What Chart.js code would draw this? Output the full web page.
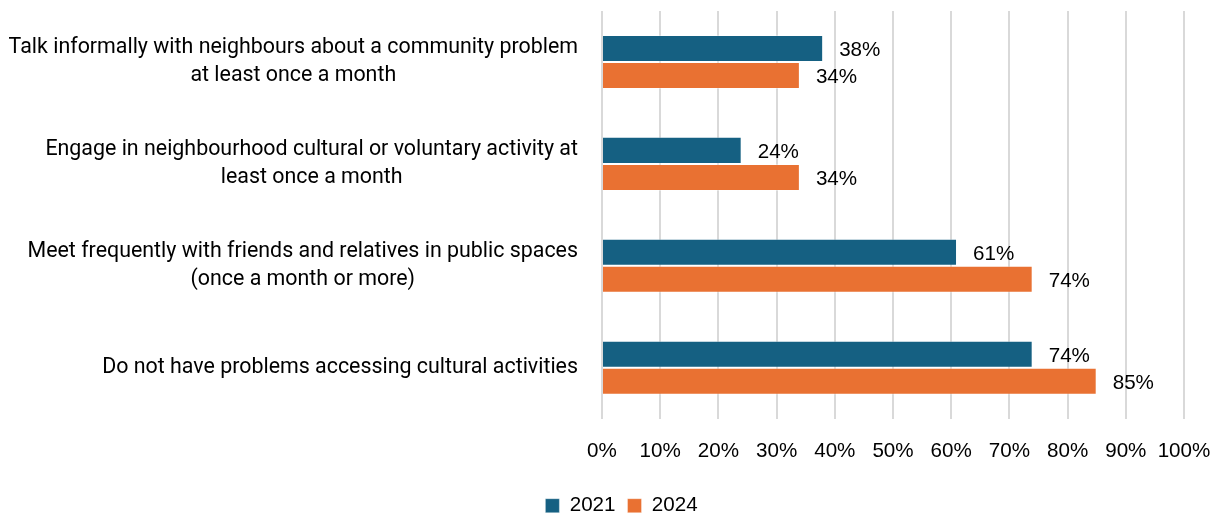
<!DOCTYPE html>
<html>
<head>
<meta charset="utf-8">
<script src="https://cdn.jsdelivr.net/npm/chart.js@4.4.1/dist/chart.umd.min.js"></script>
<style>
  html, body { margin: 0; padding: 0; background: #fff; }
  #wrap { width: 1215px; height: 513px; }
</style>
</head>
<body>
<div id="wrap"><canvas id="chart" width="1215" height="513"></canvas></div>
<script>
// survey items, each one is an array of text lines
var categories = [
  ['Talk informally with neighbours about a community problem', 'at least once a month'],
  ['Engage in neighbourhood cultural or voluntary activity at', 'least once a month'],
  ['Meet frequently with friends and relatives in public spaces', '(once a month or more)'],
  ['Do not have problems accessing cultural activities']
];
var seriesNames = ['2021', '2024'];
var values2021 = [38, 24, 61, 74];
var values2024 = [34, 34, 74, 85];
var tickLabels = ['0%', '10%', '20%', '30%', '40%', '50%', '60%', '70%', '80%', '90%', '100%'];

var colors = ['#156082', '#E97132'];
var numFont = '20.6px "Liberation Sans", Arial, sans-serif';
var catFont = '21.4px "Roboto", sans-serif';

// category labels: every block is centred on its own longest line,
// and all blocks are right aligned against the plot
var categoryLabels = {
  id: 'categoryLabels',
  afterDraw(chart) {
    var ctx = chart.ctx;
    var yScale = chart.scales.y;
    var right = chart.chartArea.left - 24;
    var lineH = 28;
    ctx.save();
    ctx.font = catFont;
    ctx.fillStyle = '#000';
    ctx.textAlign = 'center';
    ctx.textBaseline = 'middle';
    categories.forEach((lines, i) => {
      var widest = Math.max(...lines.map(l => ctx.measureText(l).width));
      var cx = right - widest / 2;
      var cy = yScale.getPixelForTick(i);
      var top = cy - (lines.length - 1) * lineH / 2;
      lines.forEach((l, k) => ctx.fillText(l, cx, top + k * lineH));
    });
    ctx.restore();
  }
};

// value labels just past the end of each bar
var valueLabels = {
  id: 'valueLabels',
  afterDatasetsDraw(chart) {
    var ctx = chart.ctx;
    ctx.save();
    ctx.font = numFont;
    ctx.fillStyle = '#000';
    ctx.textAlign = 'left';
    ctx.textBaseline = 'middle';
    chart.data.datasets.forEach((ds, d) => {
      chart.getDatasetMeta(d).data.forEach((bar, i) => {
        ctx.fillText(ds.data[i] + '%', bar.x + 16, bar.y + 2);
      });
    });
    ctx.restore();
  }
};

// nudge the legend a little to the right of the canvas centre
var legendShift = {
  id: 'legendShift',
  afterLayout(chart) {
    if (chart.legend) {
      chart.legend.left += 14;
      chart.legend.right += 14;
    }
  }
};

new Chart(document.getElementById('chart'), {
  type: 'bar',
  data: {
    labels: categories,
    datasets: [
      { label: seriesNames[0], data: values2021, backgroundColor: colors[0], borderColor: 'rgba(255,255,255,0.35)', borderWidth: 1 },
      { label: seriesNames[1], data: values2024, backgroundColor: colors[1], borderColor: 'rgba(255,255,255,0.35)', borderWidth: 1 }
    ]
  },
  options: {
    indexAxis: 'y',
    responsive: false,
    animation: false,
    devicePixelRatio: 1,
    categoryPercentage: 0.53,
    barPercentage: 1,
    layout: { padding: { left: 0, right: 0, top: 11, bottom: -13 } },
    scales: {
      x: {
        min: 0,
        max: 100,
        // keep just enough room on the right for the "100%" label
        afterFit: (scale) => { scale.paddingLeft = 0; scale.paddingRight = 31; },
        ticks: {
          stepSize: 10,
          padding: 20,
          color: '#000',
          font: { family: '"Liberation Sans", Arial, sans-serif', size: 20.6 },
          callback: (v, i) => tickLabels[i]
        },
        grid: { color: '#d9d9d9', lineWidth: 2, drawTicks: false },
        border: { display: false }
      },
      y: {
        // room on the left for the wrapped item texts
        afterFit: (scale) => { scale.width = 602; },
        ticks: { display: false },
        grid: { display: false },
        border: { display: false }
      }
    },
    plugins: {
      legend: {
        position: 'bottom',
        labels: {
          boxWidth: 14,
          boxHeight: 14,
          color: '#000',
          padding: 12,
          font: { family: '"Liberation Sans", Arial, sans-serif', size: 20.6 }
        }
      },
      tooltip: { enabled: false }
    }
  },
  plugins: [categoryLabels, valueLabels, legendShift]
});
</script>
</body>
</html>
